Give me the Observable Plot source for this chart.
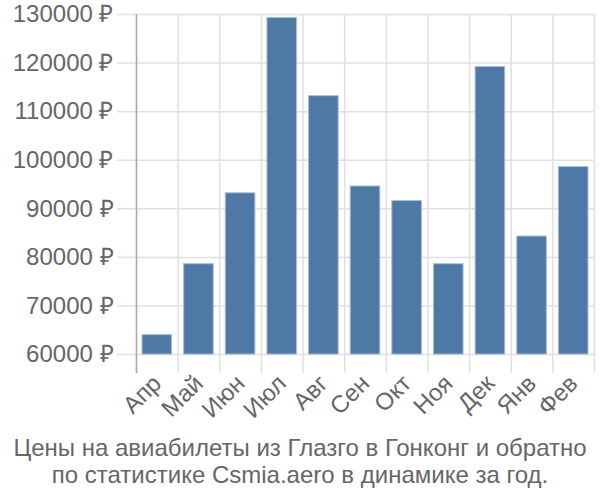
<!DOCTYPE html>
<html>
<head>
<meta charset="utf-8">
<script src="https://cdn.jsdelivr.net/npm/d3@7"></script>
<script src="https://cdn.jsdelivr.net/npm/@observablehq/plot@0.6"></script>
<style>
  body { margin: 0; background: #fff; font-family: "Liberation Sans", Arial, sans-serif; }
  #caption { width: 600px; text-align: center; color: #666; font-size: 24px; line-height: 27px; margin-top: 4px; }
</style>
</head>
<body>
<div id="chart"></div>
<div id="caption">Цены на авиабилеты из Глазго в Гонконг и обратно<br>по статистике Csmia.aero в динамике за год.</div>
<script>
const months = ["Апр","Май","Июн","Июл","Авг","Сен","Окт","Ноя","Дек","Янв","Фев"];
const prices = [64000, 78600, 93200, 129300, 113200, 94600, 91600, 78600, 119200, 84300, 98600];
const yTicks = [60000, 70000, 80000, 90000, 100000, 110000, 120000, 130000];
const baseValue = 60000;

const data = months.map((m, i) => ({i, m, v: prices[i]}));
const bounds = d3.range(months.length + 1);
const centers = d3.range(months.length).map(i => i + 0.5);

const chart = Plot.plot({
  width: 600,
  height: 430,
  marginLeft: 136,
  marginRight: 6,
  marginTop: 14,
  marginBottom: 57,
  style: {fontFamily: "'Liberation Sans', Arial, sans-serif", fontSize: "24px", color: "#666", background: "#fff"},
  x: {type: "linear", domain: [0, months.length], axis: null},
  y: {domain: [56100, 130000], axis: null},
  marks: [
    Plot.ruleX(bounds, {stroke: "#e0e0e0", strokeWidth: 1.5}),
    Plot.gridY(yTicks, {stroke: "#e0e0e0", strokeOpacity: 1, strokeWidth: 1.5}),
    Plot.axisY(yTicks, {label: null, tickSize: 19, tickPadding: 4, stroke: "#e0e0e0", strokeWidth: 1.5, fill: "#666", fontSize: 24, tickFormat: d => d + " ₽"}),
    Plot.ruleX([0], {stroke: "#aaa", strokeWidth: 1.5}),
    Plot.rectY(data, {x1: "i", x2: d => d.i + 1, y1: baseValue, y2: "v", insetLeft: 6, insetRight: 6, fill: "#4e79a7", stroke: "#a9bfd8", strokeWidth: 1}),
    Plot.axisX(centers, {label: null, tickSize: 0, tickPadding: 6, tickRotate: -45, fill: "#666", fontSize: 24, tickFormat: d => months[Math.round(d - 0.5)]})
  ]
});
document.getElementById("chart").appendChild(chart);
</script>
</body>
</html>
